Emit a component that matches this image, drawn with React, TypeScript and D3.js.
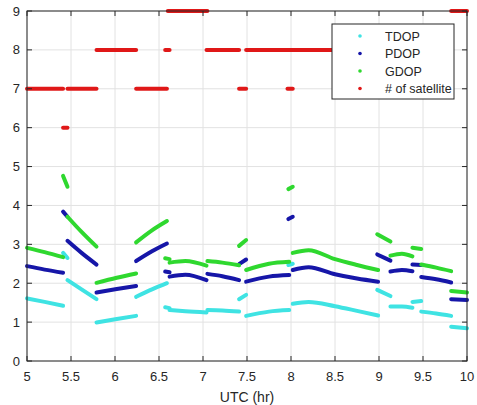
import React from "react";
import * as d3 from "d3";

// ---- data ----
const segTimes: number[][] = [
  [5.0, 5.2, 5.41],
  [5.41, 5.46],
  [5.46, 5.62, 5.79],
  [5.79, 6.02, 6.24],
  [6.24, 6.42, 6.59],
  [6.57, 6.62],
  [6.62, 6.8, 7.04],
  [7.05, 7.22, 7.41],
  [7.41, 7.49],
  [7.49, 7.75, 7.98],
  [7.97, 8.02],
  [8.02, 8.2, 8.5, 8.75, 8.99],
  [8.98, 9.13],
  [9.13, 9.26, 9.38],
  [9.38, 9.48],
  [9.48, 9.65, 9.82],
  [9.82, 10.0],
];
const gdopValues: number[][] = [
  [2.91, 2.8, 2.67],
  [4.76, 4.48],
  [3.71, 3.32, 2.94],
  [2.01, 2.14, 2.25],
  [3.05, 3.36, 3.6],
  [2.64, 2.62],
  [2.53, 2.57, 2.45],
  [2.57, 2.53, 2.46],
  [2.96, 3.11],
  [2.34, 2.5, 2.55],
  [4.42, 4.48],
  [2.78, 2.85, 2.62, 2.47, 2.34],
  [3.26, 3.07],
  [2.71, 2.76, 2.69],
  [2.91, 2.88],
  [2.48, 2.4, 2.31],
  [1.8, 1.76],
];
const pdopValues: number[][] = [
  [2.44, 2.35, 2.27],
  [3.84, 3.71],
  [3.09, 2.78, 2.48],
  [1.76, 1.85, 1.93],
  [2.57, 2.82, 3.02],
  [2.3, 2.28],
  [2.17, 2.22, 2.08],
  [2.24, 2.18, 2.08],
  [2.49, 2.61],
  [2.04, 2.17, 2.21],
  [3.65, 3.71],
  [2.34, 2.41, 2.23, 2.12, 2.04],
  [2.74, 2.58],
  [2.3, 2.34, 2.31],
  [2.48, 2.47],
  [2.16, 2.1, 2.02],
  [1.59, 1.57],
];
const tdopValues: number[][] = [
  [1.61, 1.52, 1.42],
  [2.78, 2.65],
  [2.08, 1.84, 1.59],
  [0.99, 1.08, 1.16],
  [1.65, 1.84, 2.0],
  [1.38, 1.36],
  [1.31, 1.28, 1.25],
  [1.31, 1.3, 1.27],
  [1.59, 1.7],
  [1.16, 1.27, 1.31],
  [2.47, 2.5],
  [1.47, 1.52, 1.41, 1.29, 1.17],
  [1.83, 1.67],
  [1.4, 1.4, 1.37],
  [1.52, 1.54],
  [1.27, 1.22, 1.16],
  [0.88, 0.84],
];
const satStart = [5.0, 5.41, 5.46, 5.79, 6.24, 6.57, 6.6, 7.04, 7.41, 7.49, 7.96, 9.82];
const satEnd = [5.41, 5.46, 5.79, 6.24, 6.59, 6.62, 7.05, 7.41, 7.49, 9.82, 8.02, 10.0];
const satCount = [7, 6, 7, 8, 7, 8, 9, 8, 7, 8, 7, 9];

const xTicks = [5, 5.5, 6, 6.5, 7, 7.5, 8, 8.5, 9, 9.5, 10];
const yTicks = [0, 1, 2, 3, 4, 5, 6, 7, 8, 9];
const legendLabels = ["TDOP", "PDOP", "GDOP", "# of satellite"];

// ---- styling ----
const W = 477;
const H = 405;
const M = { left: 27, right: 467, top: 11, bottom: 361 };
const COL_T = "#3fe3e3";
const COL_P = "#1616a8";
const COL_G = "#2fd82f";
const COL_R = "#e01818";
const FONT = "'Liberation Sans', Arial, sans-serif";

export default function App() {
  const x = d3.scaleLinear().domain([5, 10]).range([M.left, M.right]);
  const y = d3.scaleLinear().domain([0, 9]).range([M.bottom, M.top]);
  const line = d3
    .line<[number, number]>()
    .x((d) => x(d[0]))
    .y((d) => y(d[1]))
    .curve(d3.curveMonotoneX);

  const series = [
    { vals: tdopValues, color: COL_T },
    { vals: pdopValues, color: COL_P },
    { vals: gdopValues, color: COL_G },
  ];
  const legendColors = [COL_T, COL_P, COL_G, COL_R];

  return (
    <svg
      width={W}
      height={H}
      style={{ position: "absolute", left: 0, top: 0, background: "#fff" }}
      fontFamily={FONT}
    >
      <rect x={0} y={0} width={W} height={H} fill="#fff" />
      {/* grid */}
      {xTicks.map((t) => (
        <line key={"gx" + t} x1={x(t)} x2={x(t)} y1={M.top} y2={M.bottom} stroke="#e2e2e2" strokeWidth={1} />
      ))}
      {yTicks.map((t) => (
        <line key={"gy" + t} x1={M.left} x2={M.right} y1={y(t)} y2={y(t)} stroke="#e2e2e2" strokeWidth={1} />
      ))}
      {/* DOP series */}
      {series.map((s, si) =>
        segTimes.map((ts, i) => (
          <path
            key={si + "-" + i}
            d={line(ts.map((t, j) => [t, s.vals[i][j]] as [number, number])) || ""}
            fill="none"
            stroke={s.color}
            strokeWidth={4}
            strokeLinecap="round"
            strokeLinejoin="round"
          />
        ))
      )}
      {/* satellites */}
      {satCount.map((c, i) => (
        <line
          key={"s" + i}
          x1={x(satStart[i])}
          x2={x(satEnd[i])}
          y1={y(c)}
          y2={y(c)}
          stroke={COL_R}
          strokeWidth={4}
          strokeLinecap="round"
        />
      ))}
      {/* axes box */}
      <rect
        x={M.left}
        y={M.top}
        width={M.right - M.left}
        height={M.bottom - M.top}
        fill="none"
        stroke="#262626"
        strokeWidth={1}
      />
      {xTicks.map((t) => (
        <g key={"xt" + t}>
          <line x1={x(t)} x2={x(t)} y1={M.bottom} y2={M.bottom - 5} stroke="#262626" />
          <line x1={x(t)} x2={x(t)} y1={M.top} y2={M.top + 5} stroke="#262626" />
          <text x={x(t)} y={381} textAnchor="middle" fontSize={13} fill="#262626">
            {t}
          </text>
        </g>
      ))}
      {yTicks.map((t) => (
        <g key={"yt" + t}>
          <line x1={M.left} x2={M.left + 5} y1={y(t)} y2={y(t)} stroke="#262626" />
          <line x1={M.right} x2={M.right - 5} y1={y(t)} y2={y(t)} stroke="#262626" />
          <text x={20} y={y(t) + 4.5} textAnchor="end" fontSize={13} fill="#262626">
            {t}
          </text>
        </g>
      ))}
      <text x={(M.left + M.right) / 2} y={402} textAnchor="middle" fontSize={14} fill="#262626">
        UTC (hr)
      </text>
      {/* legend */}
      <rect x={332} y={24} width={122} height={75} fill="#fff" stroke="#262626" strokeWidth={1} />
      {legendLabels.map((lab, i) => (
        <g key={lab}>
          <circle cx={360} cy={36 + i * 17.5} r={1.8} fill={legendColors[i]} />
          <text x={385} y={36 + i * 17.5 + 4.5} fontSize={12.5} fill="#262626">
            {lab}
          </text>
        </g>
      ))}
    </svg>
  );
}
